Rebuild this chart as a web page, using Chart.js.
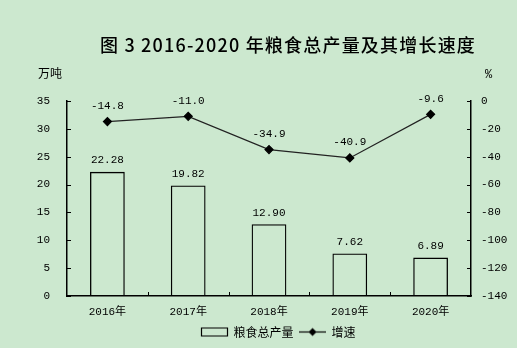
<!DOCTYPE html>
<html>
<head>
<meta charset="utf-8">
<script src="https://cdn.jsdelivr.net/npm/chart.js@4.4.1/dist/chart.umd.min.js"></script>
<style>
  html, body { margin: 0; padding: 0; background: #cce8cf; }
  #wrap { width: 517px; height: 348px; }
</style>
</head>
<body>
<div id="wrap"><canvas id="c" width="517" height="348"></canvas></div>
<script>
// values
const years = ['2016年', '2017年', '2018年', '2019年', '2020年'];
const output = [22.28, 19.82, 12.90, 7.62, 6.89];   // 万吨
const growth = [-14.8, -11.0, -34.9, -40.9, -9.6];  // %
const leftTicks = [0, 5, 10, 15, 20, 25, 30, 35];
const rightTicks = [-140, -120, -100, -80, -60, -40, -20, 0];

const titleText = '图 3 2016-2020 年粮食总产量及其增长速度';
const monoFont = '"Liberation Mono", "Noto Sans CJK SC", monospace';
const cjkFont = '"Noto Sans CJK SC", sans-serif';

// little diamond-on-a-line icon for the legend
function lineIcon() {
  const cv = document.createElement('canvas');
  cv.width = 27; cv.height = 11;
  const c = cv.getContext('2d');
  c.strokeStyle = '#000'; c.lineWidth = 1.2;
  c.beginPath(); c.moveTo(0, 5.5); c.lineTo(27, 5.5); c.stroke();
  c.fillStyle = '#000';
  c.beginPath(); c.moveTo(13.5, 1.5); c.lineTo(17.5, 5.5); c.lineTo(13.5, 9.5); c.lineTo(9.5, 5.5); c.closePath(); c.fill();
  return cv;
}

const extras = {
  id: 'extras',
  afterLayout(chart) {
    // the legend sits centred under the plot area, not the whole canvas
    chart.legend.left += 20;
    chart.legend.right += 20;
  },
  afterDraw(chart) {
    const ctx = chart.ctx;
    const { left, right, bottom } = chart.chartArea;
    const yL = chart.scales.y, yR = chart.scales.y1, x = chart.scales.x;
    ctx.save();
    // title
    ctx.fillStyle = '#000';
    ctx.font = '500 18px ' + cjkFont;
    ctx.letterSpacing = '1.2px';
    ctx.textAlign = 'center';
    ctx.textBaseline = 'middle';
    ctx.fillText(titleText, 288, 45);
    ctx.letterSpacing = '0px';
    // axis units
    ctx.font = '12px ' + cjkFont;
    ctx.textAlign = 'left';
    ctx.fillText('万吨', 38, 73);
    ctx.font = '12px ' + monoFont;
    ctx.fillText('%', 485, 75);

    // tick marks, drawn inward
    ctx.strokeStyle = '#000';
    ctx.lineWidth = 1;
    ctx.beginPath();
    leftTicks.forEach(v => {
      const py = Math.round(yL.getPixelForValue(v)) + 0.5;
      ctx.moveTo(left, py); ctx.lineTo(left + 4, py);
    });
    rightTicks.forEach(v => {
      const py = Math.round(yR.getPixelForValue(v)) + 0.5;
      ctx.moveTo(right - 4, py); ctx.lineTo(right, py);
    });
    for (let i = 1; i < years.length; i++) {
      const px = Math.round((x.getPixelForValue(i - 1) + x.getPixelForValue(i)) / 2) + 0.5;
      ctx.moveTo(px, bottom); ctx.lineTo(px, bottom - 4);
    }
    ctx.stroke();

    // data labels
    ctx.font = '11px ' + monoFont;
    ctx.textAlign = 'center';
    ctx.textBaseline = 'bottom';
    chart.getDatasetMeta(0).data.forEach((el, i) => {
      ctx.fillText(output[i].toFixed(2), el.x, el.y - 6);
    });
    chart.getDatasetMeta(1).data.forEach((el, i) => {
      ctx.fillText(growth[i].toFixed(1), el.x, el.y - 10);
    });
    ctx.restore();
  }
};

const icon = lineIcon();

new Chart(document.getElementById('c'), {
  data: {
    labels: years,
    datasets: [
      {
        type: 'bar',
        label: '粮食总产量',
        data: output,
        yAxisID: 'y',
        backgroundColor: 'rgba(0,0,0,0)',
        borderColor: '#000',
        borderWidth: 1.3,
        barPercentage: 0.43,
        categoryPercentage: 1,
        order: 2
      },
      {
        type: 'line',
        label: '增速',
        data: growth,
        yAxisID: 'y1',
        borderColor: '#222',
        borderWidth: 1.2,
        pointStyle: 'rectRot',
        pointRadius: 4,
        pointBackgroundColor: '#000',
        pointBorderColor: '#000',
        tension: 0,
        order: 1
      }
    ]
  },
  options: {
    responsive: false,
    animation: false,
    layout: { padding: { top: 101, bottom: 0 } },
    plugins: {
      title: { display: false },
      tooltip: { enabled: false },
      legend: {
        position: 'bottom',
        labels: {
          color: '#000',
          font: { family: cjkFont, size: 12 },
          usePointStyle: true,
          pointStyleWidth: 26,
          boxHeight: 8,
          padding: 6,
          generateLabels(chart) {
            return [
              { text: '粮食总产量', pointStyle: 'rect', fillStyle: 'rgba(0,0,0,0)', strokeStyle: '#000', lineWidth: 1.2, datasetIndex: 0 },
              { text: '增速', pointStyle: icon, fillStyle: '#000', strokeStyle: '#000', lineWidth: 0, datasetIndex: 1 }
            ];
          }
        }
      }
    },
    scales: {
      x: {
        grid: { display: false, drawTicks: false },
        border: { color: '#000', width: 1.5 },
        ticks: { color: '#000', font: { family: monoFont, size: 11 }, padding: 9, maxRotation: 0 },
        afterFit(s) { s.height = 24; }
      },
      y: {
        position: 'left',
        min: 0, max: 35,
        afterBuildTicks(s) { s.ticks = leftTicks.map(v => ({ value: v })); },
        grid: { display: false, drawTicks: false },
        border: { color: '#000', width: 1.5 },
        ticks: { color: '#000', font: { family: monoFont, size: 11 }, padding: 17 },
        afterFit(s) { s.width = 67; }
      },
      y1: {
        position: 'right',
        min: -140, max: 0,
        afterBuildTicks(s) { s.ticks = rightTicks.map(v => ({ value: v })); },
        grid: { display: false, drawTicks: false },
        border: { color: '#000', width: 1.5 },
        ticks: { color: '#000', font: { family: monoFont, size: 11 }, padding: 10 },
        afterFit(s) { s.width = 46; }
      }
    }
  },
  plugins: [extras]
});
</script>
</body>
</html>
